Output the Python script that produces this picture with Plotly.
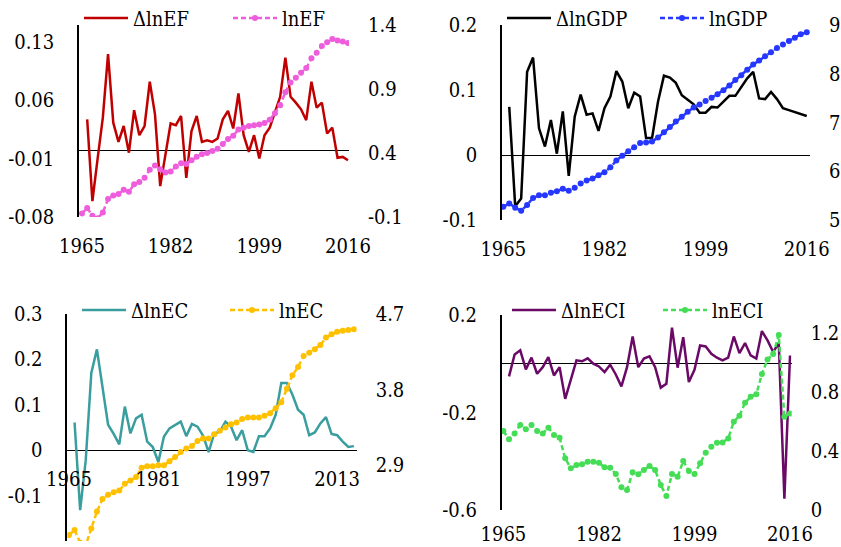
import plotly.graph_objects as go

years = list(range(1965, 2017))

d_lnEF = [None, 0.037, -0.061, -0.010, 0.039, 0.115, 0.033, 0.010, 0.029, -0.003, 0.048,
          0.018, 0.029, 0.082, 0.043, -0.043, -0.004, 0.032, 0.030, 0.041, -0.033,
          0.023, 0.041, 0.010, 0.012, 0.010, 0.014, 0.037, 0.047, 0.026, 0.068,
          0.018, -0.002, 0.018, -0.010, 0.018, 0.027, 0.045, 0.064, 0.111, 0.064,
          0.057, 0.049, 0.036, 0.082, 0.051, 0.057, 0.020, 0.027, -0.009, -0.008, -0.012]
lnEF = [-0.072, -0.029, -0.090, -0.110, -0.065, 0.041, 0.067, 0.079, 0.112, 0.097,
        0.155, 0.173, 0.206, 0.269, 0.302, 0.274, 0.248, 0.256, 0.294, 0.319,
        0.314, 0.344, 0.370, 0.390, 0.400, 0.415, 0.433, 0.471, 0.509, 0.534,
        0.584, 0.597, 0.610, 0.617, 0.622, 0.635, 0.660, 0.711, 0.774, 0.875,
        0.951, 0.988, 1.026, 1.064, 1.140, 1.183, 1.236, 1.266, 1.291, 1.279, 1.271, 1.259]

d_lnGDP = [None, 0.074, -0.079, -0.067, 0.128, 0.150, 0.041, 0.013, 0.054, 0.002, 0.067,
           -0.032, 0.059, 0.093, 0.062, 0.064, 0.037, 0.072, 0.090, 0.129, 0.113,
           0.072, 0.096, 0.090, 0.026, 0.026, 0.082, 0.122, 0.119, 0.111, 0.092,
           0.085, 0.078, 0.065, 0.065, 0.074, 0.073, 0.082, 0.091, 0.091, 0.104,
           0.118, 0.128, 0.087, 0.086, 0.097, 0.086, 0.072, 0.069, 0.066, 0.062, 0.060]
lnGDP = [5.27, 5.34, 5.25, 5.19, 5.31, 5.45, 5.51, 5.51, 5.56, 5.59,
         5.64, 5.60, 5.66, 5.75, 5.81, 5.85, 5.92, 5.98, 6.08, 6.22,
         6.32, 6.41, 6.49, 6.58, 6.59, 6.61, 6.69, 6.80, 6.91, 7.02,
         7.12, 7.22, 7.31, 7.37, 7.44, 7.51, 7.58, 7.66, 7.76, 7.87,
         7.97, 8.08, 8.19, 8.27, 8.36, 8.44, 8.53, 8.60, 8.67, 8.74, 8.81, 8.85]

d_lnEC = [None, 0.061, -0.132, -0.022, 0.170, 0.222, 0.141, 0.056, 0.036, 0.013, 0.096,
          0.037, 0.070, 0.078, 0.019, 0.007, -0.026, 0.030, 0.048, 0.056, 0.063,
          0.031, 0.058, 0.052, 0.032, -0.004, 0.037, 0.041, 0.063, 0.052, 0.022,
          0.044, 0.000, -0.004, 0.031, 0.031, 0.048, 0.078, 0.148, 0.148, 0.122,
          0.089, 0.078, 0.033, 0.039, 0.059, 0.073, 0.036, 0.033, 0.019, 0.007, 0.009]
lnEC = [2.07, 2.13, 1.98, 1.95, 2.15, 2.35, 2.50, 2.55, 2.58, 2.60,
        2.68, 2.72, 2.76, 2.87, 2.89, 2.89, 2.90, 2.90, 2.95, 3.00,
        3.06, 3.10, 3.13, 3.19, 3.22, 3.22, 3.27, 3.31, 3.35, 3.39,
        3.41, 3.45, 3.47, 3.47, 3.47, 3.49, 3.52, 3.58, 3.65, 3.81,
        3.97, 4.07, 4.20, 4.24, 4.28, 4.33, 4.42, 4.46, 4.49, 4.50, 4.51, 4.52]

d_lnECI = [None, -0.052, 0.038, 0.055, -0.023, 0.025, -0.041, -0.014, 0.027, -0.048, -0.014,
           -0.144, -0.062, 0.014, 0.010, 0.022, 0.000, -0.011, -0.034, -0.004, -0.044,
           -0.093, -0.014, 0.112, -0.014, 0.021, 0.030, -0.014, -0.098, -0.082, 0.148,
           -0.016, 0.109, -0.075, -0.025, 0.075, 0.071, 0.041, 0.025, 0.014, 0.025,
           0.112, 0.044, 0.085, 0.034, 0.021, 0.134, 0.096, 0.048, 0.085, -0.554, 0.034]
lnECI = [0.536, 0.480, 0.520, 0.577, 0.548, 0.577, 0.536, 0.520, 0.559, 0.509,
         0.491, 0.351, 0.283, 0.305, 0.310, 0.328, 0.328, 0.321, 0.290, 0.287,
         0.244, 0.154, 0.136, 0.256, 0.242, 0.271, 0.299, 0.271, 0.170, 0.095,
         0.244, 0.226, 0.333, 0.265, 0.244, 0.317, 0.389, 0.430, 0.457, 0.459,
         0.486, 0.600, 0.640, 0.729, 0.769, 0.787, 0.923, 1.023, 1.059, 1.188, 0.633, 0.656]

# tick labels
x_ticks_a = [1965, 1982, 1999, 2016]
x_ticks_b = [1965, 1981, 1997, 2013]
ef_left = [-0.08, -0.01, 0.06, 0.13]
ef_left_txt = ["-0.08", "-0.01", "0.06", "0.13"]
ef_right = [-0.1, 0.4, 0.9, 1.4]
ef_right_txt = ["-0.1", "0.4", "0.9", "1.4"]
gdp_left = [-0.1, 0, 0.1, 0.2]
gdp_left_txt = ["-0.1", "0", "0.1", "0.2"]
gdp_right = [5, 6, 7, 8, 9]
gdp_right_txt = ["5", "6", "7", "8", "9"]
ec_left = [-0.2, -0.1, 0, 0.1, 0.2, 0.3]
ec_left_txt = ["-0.2", "-0.1", "0", "0.1", "0.2", "0.3"]
ec_right = [2, 2.9, 3.8, 4.7]
ec_right_txt = ["2", "2.9", "3.8", "4.7"]
eci_left = [-0.6, -0.2, 0.2]
eci_left_txt = ["-0.6", "-0.2", "0.2"]
eci_right = [0, 0.4, 0.8, 1.2]
eci_right_txt = ["0", "0.4", "0.8", "1.2"]

W, H = 841, 547
FONT = dict(family="DejaVu Serif Condensed", size=20, color="black")


def fx(p):
    return p / W


def fy(p):
    return 1 - p / H


fig = go.Figure()

panels = [
    ("", "2", "x", d_lnEF, lnEF, ("ΔlnEF", "lnEF"), ("#C00000", "#EE5EDC"), "legend"),
    ("3", "4", "x2", d_lnGDP, lnGDP, ("ΔlnGDP", "lnGDP"), ("#000000", "#2638FF"), "legend2"),
    ("5", "6", "x3", d_lnEC, lnEC, ("ΔlnEC", "lnEC"), ("#3A9E9E", "#FFC000"), "legend3"),
    ("7", "8", "x4", d_lnECI, lnECI, ("ΔlnECI", "lnECI"), ("#6A0A66", "#44DD55"), "legend4"),
]

for yl, yr, xa, dlt, lev, names, cols, lg in panels:
    fig.add_trace(go.Scatter(x=years, y=dlt, mode="lines", name=names[0],
                             line=dict(color=cols[0], width=2.5),
                             xaxis=xa, yaxis="y" + yl, legend=lg))
    fig.add_trace(go.Scatter(x=years, y=lev, mode="lines+markers", name=names[1],
                             line=dict(color=cols[1], width=2.5, dash="5px,3px"),
                             marker=dict(color=cols[1], size=6),
                             xaxis=xa, yaxis="y" + yr, legend=lg))

common_x = dict(showgrid=False, zeroline=False, showline=False, ticks="", automargin=False,
                tickfont=FONT, ticklabelstandoff=15, tickmode="array")
common_yl = dict(showgrid=False, zeroline=True, zerolinecolor="black", zerolinewidth=1.3,
                 showline=True, linecolor="black", linewidth=1.5, ticks="", automargin=False,
                 tickfont=FONT, ticklabelstandoff=19, tickmode="array", side="left")
common_yr = dict(showgrid=False, zeroline=False, showline=False, ticks="", automargin=False,
                 tickfont=FONT, ticklabelstandoff=18, tickmode="array", side="right")

lay = dict(width=W, height=H, margin=dict(l=0, r=0, t=0, b=0, autoexpand=False),
           paper_bgcolor="white", plot_bgcolor="rgba(0,0,0,0)", font=FONT)

# Panel 1
lay["xaxis"] = dict(common_x, domain=[fx(79), fx(349)], range=[1964.43, 2016.2], anchor="y",
                    tickvals=x_ticks_a, ticktext=[str(v) for v in x_ticks_a])
lay["yaxis"] = dict(common_yl, domain=[fy(217), fy(25)], range=[-0.08, 0.15], anchor="x",
                    tickvals=ef_left, ticktext=ef_left_txt)
lay["yaxis2"] = dict(common_yr, range=[-0.1, 1.4], overlaying="y", anchor="x",
                     tickvals=ef_right, ticktext=ef_right_txt)
# Panel 2
lay["xaxis2"] = dict(common_x, domain=[fx(502), fx(810)], range=[1964.78, 2016.55], anchor="y3",
                     tickvals=x_ticks_a, ticktext=[str(v) for v in x_ticks_a])
lay["yaxis3"] = dict(common_yl, domain=[fy(220), fy(25)], range=[-0.1, 0.2], anchor="x2",
                     tickvals=gdp_left, ticktext=gdp_left_txt)
lay["yaxis4"] = dict(common_yr, range=[5, 9], overlaying="y3", anchor="x2",
                     tickvals=gdp_right, ticktext=gdp_right_txt)
# Panel 3
lay["xaxis3"] = dict(common_x, domain=[fx(67.3), fx(356.7)], range=[1964.7, 2016.5], anchor="free",
                     position=fy(450), tickvals=x_ticks_b, ticktext=[str(v) for v in x_ticks_b])
lay["yaxis5"] = dict(common_yl, domain=[fy(541), fy(314)], range=[-0.2, 0.3], anchor="x3",
                     tickvals=ec_left, ticktext=ec_left_txt)
lay["yaxis6"] = dict(common_yr, range=[2, 4.7], overlaying="y5", anchor="x3",
                     tickvals=ec_right, ticktext=ec_right_txt)
# Panel 4
lay["xaxis4"] = dict(common_x, domain=[fx(501.7), fx(791.7)], range=[1964.7, 2016.3], anchor="y7",
                     tickvals=x_ticks_a, ticktext=[str(v) for v in x_ticks_a],
                     ticklabelstandoff=10)
lay["yaxis7"] = dict(common_yl, domain=[fy(510), fy(315)], range=[-0.6, 0.2], anchor="x4",
                     tickvals=eci_left, ticktext=eci_left_txt)
lay["yaxis8"] = dict(common_yr, range=[0, 1.3245], overlaying="y7", anchor="x4",
                     tickvals=eci_right, ticktext=eci_right_txt)

leg_common = dict(orientation="h", xanchor="left", yanchor="middle", font=FONT,
                  bgcolor="rgba(0,0,0,0)", itemwidth=44, tracegroupgap=0,
                  entrywidthmode="pixels")
lay["legend"] = dict(leg_common, x=fx(79), y=fy(18), entrywidth=90)
lay["legend2"] = dict(leg_common, x=fx(502), y=fy(18), entrywidth=94)
lay["legend3"] = dict(leg_common, x=fx(77), y=fy(310), entrywidth=89)
lay["legend4"] = dict(leg_common, x=fx(507), y=fy(310), entrywidth=92)

fig.update_layout(**lay)
fig.write_html("out.html", config={"displayModeBar": False},
               post_script="document.body.style.margin='0';document.body.style.padding='0';")
